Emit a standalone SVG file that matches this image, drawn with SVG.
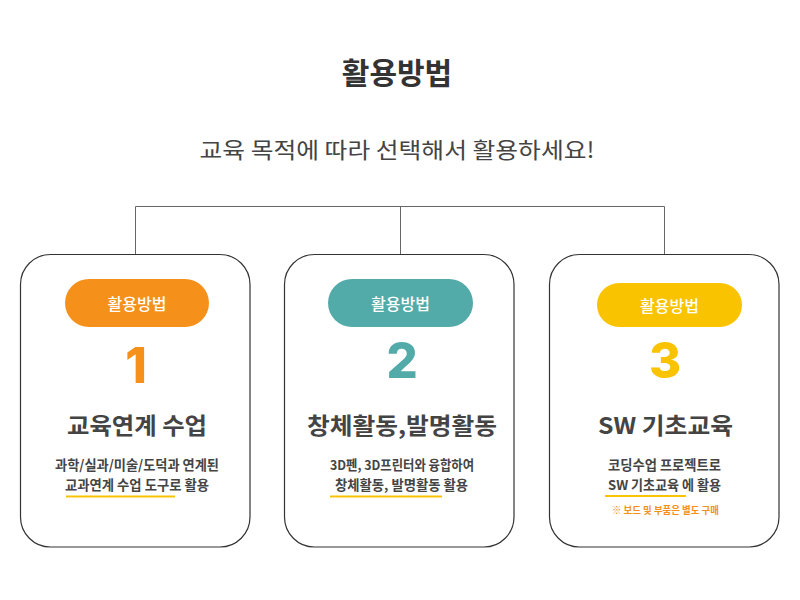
<svg xmlns="http://www.w3.org/2000/svg" width="800" height="600" viewBox="0 0 800 600">
<style>
.kr{font-family:"Noto Sans CJK KR","Noto Sans",sans-serif;}
.card{fill:#fff;stroke:#333;stroke-width:1.2;}
.conn{fill:none;stroke:#666;stroke-width:1;}
.pilltxt{font-size:16px;fill:#fff;font-weight:500;text-anchor:middle;}
.num{font-family:Inter,"Liberation Sans",sans-serif;font-size:49px;font-weight:800;text-anchor:middle;}
.head{font-size:23px;font-weight:700;fill:#444;text-anchor:middle;}
.desc{font-size:13.5px;font-weight:700;fill:#444;text-anchor:middle;}
.uline{stroke:#F9C300;stroke-width:2;}
</style>
<rect width="800" height="600" fill="#fff"/>
<text class="kr" x="397" y="84" font-size="30" font-weight="700" fill="#333" text-anchor="middle">활용방법</text>
<text class="kr" x="397" y="158" font-size="22" font-weight="400" fill="#444" text-anchor="middle" textLength="395" lengthAdjust="spacingAndGlyphs">교육 목적에 따라 선택해서 활용하세요!</text>
<g id="connectors">
<polyline class="conn" points="135.5,254 135.5,206.5 664.5,206.5 664.5,254"/>
<line class="conn" x1="400.5" y1="206.5" x2="400.5" y2="254"/>
</g>
<g id="card1">
<rect class="card" x="20.5" y="254.5" width="229.5" height="292.5" rx="30"/>
<rect x="65" y="279" width="144" height="48" rx="24" fill="#F5901B"/>
<text class="kr pilltxt" x="137" y="310">활용방법</text>
<text class="num" x="136" y="383" fill="#F5901B">1</text>
<text class="kr head" x="137" y="434" textLength="140" lengthAdjust="spacingAndGlyphs">교육연계 수업</text>
<text class="kr desc" x="137" y="470" textLength="164" lengthAdjust="spacingAndGlyphs">과학/실과/미술/도덕과 연계된</text>
<text class="kr desc" x="137" y="489.5" textLength="144" lengthAdjust="spacingAndGlyphs">교과연계 수업 도구로 활용</text>
<line class="uline" x1="66" y1="496.5" x2="175" y2="496.5"/>
</g>
<g id="card2">
<rect class="card" x="284.5" y="254.5" width="229.5" height="292.5" rx="30"/>
<rect x="328" y="279" width="145" height="48" rx="24" fill="#52ABA9"/>
<text class="kr pilltxt" x="400.5" y="310">활용방법</text>
<text class="num" x="402" y="378" fill="#52ABA9">2</text>
<text class="kr head" x="402" y="434" textLength="190" lengthAdjust="spacingAndGlyphs">창체활동,발명활동</text>
<text class="kr desc" x="402" y="470" textLength="144" lengthAdjust="spacingAndGlyphs">3D펜, 3D프린터와 융합하여</text>
<text class="kr desc" x="401.5" y="489.5" textLength="133" lengthAdjust="spacingAndGlyphs">창체활동, 발명활동 활용</text>
<line class="uline" x1="330" y1="496.5" x2="442" y2="496.5"/>
</g>
<g id="card3">
<rect class="card" x="549.5" y="254.5" width="229.5" height="292.5" rx="30"/>
<rect x="597" y="283" width="145" height="44" rx="22" fill="#F9C300"/>
<text class="kr pilltxt" x="669.5" y="312">활용방법</text>
<text class="num" x="665" y="378" fill="#F9C300">3</text>
<text class="kr head" x="665.5" y="434" textLength="135" lengthAdjust="spacingAndGlyphs">SW 기초교육</text>
<text class="kr desc" x="664.5" y="470" textLength="113" lengthAdjust="spacingAndGlyphs">코딩수업 프로젝트로</text>
<text class="kr desc" x="664.5" y="489.5" textLength="113" lengthAdjust="spacingAndGlyphs">SW 기초교육 에 활용</text>
<line class="uline" x1="605" y1="496" x2="686" y2="496"/>
<text class="kr" x="665.5" y="514" font-size="10" font-weight="700" fill="#F5901B" text-anchor="middle" textLength="107" lengthAdjust="spacingAndGlyphs">※ 보드 및 부품은 별도 구매</text>
</g>
</svg>
